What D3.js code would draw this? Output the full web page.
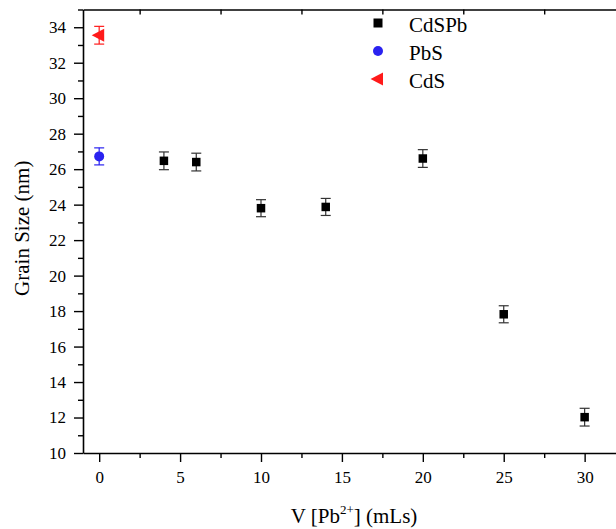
<!DOCTYPE html>
<html>
<head>
<meta charset="utf-8">
<script src="https://cdn.jsdelivr.net/npm/d3@7"></script>
<style>
  html, body { margin: 0; padding: 0; background: #fff; }
  svg { display: block; }
  text { font-family: "Liberation Serif", "Times New Roman", serif; fill: #000; }
</style>
</head>
<body>
<svg id="chart" width="616" height="529"></svg>
<script>
// ---- data ----
const cdspbX = [4, 6, 10, 14, 20, 25, 30];
const cdspbY = [26.47, 26.4, 23.8, 23.87, 26.6, 17.82, 12.02];
const cdspbErr = [0.5, 0.5, 0.48, 0.48, 0.5, 0.48, 0.5];
const pbsX = [0];
const pbsY = [26.72];
const pbsErr = [0.48];
const cdsX = [0];
const cdsY = [33.55];
const cdsErr = [0.5];
const xMajorTicks = [0, 5, 10, 15, 20, 25, 30];
const xMinorTicks = [2.5, 7.5, 12.5, 17.5, 22.5, 27.5];
const yMajorTicks = [10, 12, 14, 16, 18, 20, 22, 24, 26, 28, 30, 32, 34];
const yMinorTicks = [11, 13, 15, 17, 19, 21, 23, 25, 27, 29, 31, 33, 35];
const seriesNames = ["CdSPb", "PbS", "CdS"];

// ---- chart ----
const svg = d3.select("#chart");
const xs = d3.scaleLinear().domain([-1, 32]).range([83, 617]);
const ys = d3.scaleLinear().domain([10, 35]).range([453, 9.5]);

const FONT = '"Liberation Serif", "Times New Roman", serif';
const axisStroke = 1.6;
function styleAxis(g) {
  g.attr("font-family", FONT).attr("font-size", 17);
  g.selectAll("path.domain").attr("stroke", "#000").attr("stroke-width", axisStroke);
  g.selectAll(".tick line").attr("stroke", "#000").attr("stroke-width", 1.4);
  g.selectAll(".tick text").style("font-family", FONT).style("font-size", "17px").attr("fill", "#000");
}

// bottom axis
svg.append("g").attr("transform", `translate(0,${ys(10)})`)
  .call(d3.axisBottom(xs).tickValues(xMajorTicks).tickSize(9).tickSizeOuter(0).tickPadding(9).tickFormat(d3.format("d")))
  .call(styleAxis);
svg.append("g").attr("transform", `translate(0,${ys(10)})`)
  .call(d3.axisBottom(xs).tickValues(xMinorTicks).tickSize(5).tickSizeOuter(0).tickFormat(""))
  .call(g => g.select("path.domain").remove())
  .call(styleAxis);

// top axis (inward minor ticks)
svg.append("g").attr("transform", `translate(0,${ys(35)})`)
  .call(d3.axisBottom(xs).tickValues(xMinorTicks).tickSize(5).tickSizeOuter(0).tickFormat(""))
  .call(styleAxis);

// left axis
svg.append("g").attr("transform", `translate(${xs(-1)},0)`)
  .call(d3.axisLeft(ys).tickValues(yMajorTicks).tickSize(9).tickSizeOuter(0).tickPadding(8).tickFormat(d3.format("d")))
  .call(styleAxis);
svg.append("g").attr("transform", `translate(${xs(-1)},0)`)
  .call(d3.axisLeft(ys).tickValues(yMinorTicks).tickSize(5).tickSizeOuter(0).tickFormat(""))
  .call(g => g.select("path.domain").remove())
  .call(styleAxis);

// axis titles
svg.append("text")
  .attr("transform", `translate(29,${(ys(10) + ys(35)) / 2 - 3}) rotate(-90)`)
  .attr("text-anchor", "middle")
  .style("font-size", "21px")
  .text("Grain Size (nm)");

const xt = svg.append("text")
  .attr("x", 354).attr("y", 523)
  .attr("text-anchor", "middle")
  .style("font-size", "21px");
xt.append("tspan").text("V [Pb");
xt.append("tspan").attr("dy", -9).style("font-size", "13px").text("2+");
xt.append("tspan").attr("dy", 9).text("] (mLs)");

// error bars
function errorBars(xv, yv, ev, color) {
  const g = svg.append("g").attr("stroke", color).attr("stroke-width", 1.2).attr("fill", "none");
  xv.forEach((x, i) => {
    const px = xs(x), y0 = ys(yv[i] - ev[i]), y1 = ys(yv[i] + ev[i]);
    g.append("line").attr("x1", px).attr("x2", px).attr("y1", y0).attr("y2", y1);
    g.append("line").attr("x1", px - 5).attr("x2", px + 5).attr("y1", y0).attr("y2", y0);
    g.append("line").attr("x1", px - 5).attr("x2", px + 5).attr("y1", y1).attr("y2", y1);
  });
}
errorBars(cdspbX, cdspbY, cdspbErr, "#333");
errorBars(pbsX, pbsY, pbsErr, "#2a22f0");
errorBars(cdsX, cdsY, cdsErr, "#ff1a1a");

// markers
const sq = 8.5;
svg.append("g").selectAll("rect").data(cdspbX).join("rect")
  .attr("x", (d) => xs(d) - sq / 2)
  .attr("y", (d, i) => ys(cdspbY[i]) - sq / 2)
  .attr("width", sq).attr("height", sq).attr("fill", "#000");

svg.append("g").selectAll("circle").data(pbsX).join("circle")
  .attr("cx", d => xs(d)).attr("cy", (d, i) => ys(pbsY[i])).attr("r", 5)
  .attr("fill", "#2a22f0");

function leftTri(cx, cy) {
  return `M${cx - 7.5},${cy} L${cx + 5},${cy - 6.5} L${cx + 5},${cy + 6.5} Z`;
}
svg.append("g").selectAll("path").data(cdsX).join("path")
  .attr("d", (d, i) => leftTri(xs(d), ys(cdsY[i])))
  .attr("fill", "#ff1a1a");

// legend
const legY = [23, 51, 79];
const lg = svg.append("g");
lg.append("rect").attr("x", 378 - 4.5).attr("y", legY[0] - 4.5).attr("width", 9).attr("height", 9).attr("fill", "#000");
lg.append("circle").attr("cx", 378).attr("cy", legY[1]).attr("r", 5).attr("fill", "#2a22f0");
lg.append("path").attr("d", leftTri(378, legY[2])).attr("fill", "#ff1a1a");
seriesNames.forEach((n, i) => {
  lg.append("text").attr("x", 409).attr("y", legY[i] + 9).style("font-size", "21px").text(n);
});
</script>
</body>
</html>
